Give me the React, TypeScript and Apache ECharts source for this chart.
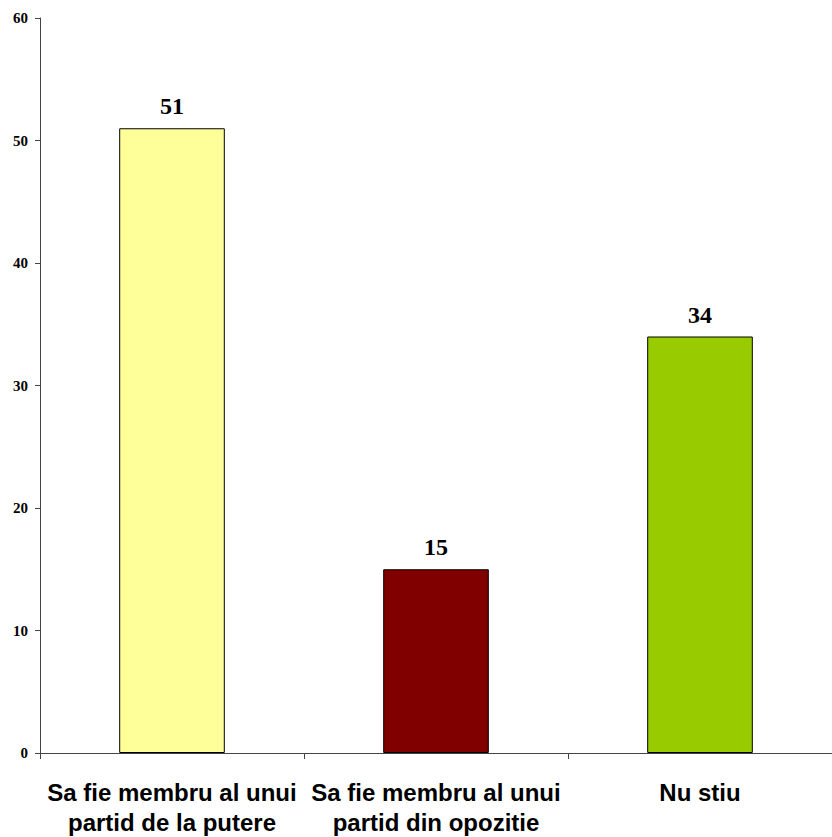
import React, { useEffect, useRef } from "react";
import * as echarts from "echarts";

const categories = [
  "Sa fie membru al unui\npartid de la putere",
  "Sa fie membru al unui\npartid din opozitie",
  "Nu stiu",
];
const values = [51, 15, 34];
const barColors = ["#FFFF99", "#800000", "#99CC00"];
const yTicks = { min: 0, max: 60, interval: 10 };

export default function App() {
  const ref = useRef<HTMLDivElement>(null);
  useEffect(() => {
    if (!ref.current) return;
    const chart = echarts.init(ref.current, undefined, { renderer: "svg" });
    chart.setOption({
      animation: false,
      backgroundColor: "#ffffff",
      grid: { left: 40, top: 18, bottom: 83, width: 798, containLabel: false },
      xAxis: {
        type: "category",
        data: categories,
        axisLine: { lineStyle: { color: "#444444", width: 1 } },
        axisTick: { show: true, length: 6, lineStyle: { color: "#444444" } },
        axisLabel: {
          interval: 0,
          margin: 24,
          fontFamily: "Liberation Sans",
          fontWeight: "bold",
          fontSize: 24,
          lineHeight: 30,
          color: "#000000",
        },
      },
      yAxis: {
        type: "value",
        min: yTicks.min,
        max: yTicks.max,
        interval: yTicks.interval,
        splitLine: { show: false },
        axisLine: { show: true, lineStyle: { color: "#444444", width: 1 } },
        axisTick: { show: true, length: 5, lineStyle: { color: "#444444" } },
        axisLabel: {
          margin: 12,
          fontFamily: "Liberation Serif",
          fontWeight: "bold",
          fontSize: 15,
          color: "#000000",
        },
      },
      series: [
        {
          type: "bar",
          barWidth: "40%",
          data: values.map((v, i) => ({
            value: v,
            itemStyle: { color: barColors[i], borderColor: "#000000", borderWidth: 1 },
          })),
          label: {
            show: true,
            position: "top",
            distance: 10,
            fontFamily: "Liberation Serif",
            fontWeight: "bold",
            fontSize: 24,
            color: "#000000",
          },
        },
      ],
    });
    return () => chart.dispose();
  }, []);
  return (
    <div
      ref={ref}
      style={{ position: "fixed", left: 0, top: 0, width: 832, height: 837 }}
    />
  );
}
